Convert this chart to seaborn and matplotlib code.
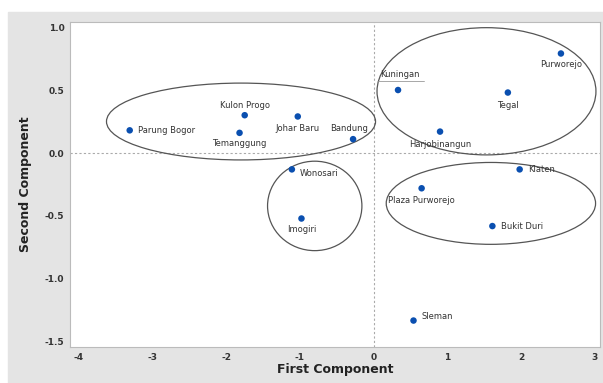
import pandas as pd
import seaborn as sns
import matplotlib.pyplot as plt
from matplotlib.patches import Ellipse, Rectangle

# scores
places = ["Parung Bogor", "Kulon Progo", "Temanggung", "Johar Baru", "Bandung",
          "Kuningan", "Tegal", "Purworejo", "Harjobinangun", "Klaten",
          "Wonosari", "Imogiri", "Plaza Purworejo", "Bukit Duri", "Sleman"]
first_comp = [-3.31, -1.75, -1.82, -1.03, -0.28,
              0.33, 1.82, 2.54, 0.90, 1.98,
              -1.11, -0.98, 0.65, 1.61, 0.54]
second_comp = [0.18, 0.30, 0.16, 0.29, 0.11,
               0.50, 0.48, 0.79, 0.17, -0.13,
               -0.13, -0.52, -0.28, -0.58, -1.33]

# label offsets in points
label_dx = [6, 0, 0, 0, -3, 1, 0, 0, 0, 6, 6, 0, 0, 6, 6]
label_dy = [0, 7, -8, -9, 8, 11, -9, -8, -9, 0, -3, -8, -9, 0, 3]
label_ha = ["left", "center", "center", "center", "center", "center", "center", "center",
            "center", "left", "left", "center", "center", "left", "left"]

# cluster ellipses: centre x, centre y, width, height
groups_cx = [-1.80, 1.53, 1.59, -0.80]
groups_cy = [0.25, 0.49, -0.40, -0.42]
groups_w = [3.65, 2.97, 2.84, 1.28]
groups_h = [0.61, 1.01, 0.65, 0.71]

df = pd.DataFrame({"place": places, "First Component": first_comp,
                   "Second Component": second_comp})

sns.set_style("white")
plt.rcParams["axes.unicode_minus"] = False
fig = plt.figure(figsize=(6.03, 3.83), dpi=100, facecolor="white")
bg = Rectangle((8 / 603, 0), 1, (383 - 12) / 383,
               transform=fig.transFigure, color="#e4e4e4", zorder=-10)
fig.patches.append(bg)
ax = fig.add_axes([70 / 603, 36 / 383, 530 / 603, 325 / 383])
ax.set_zorder(1)
ax.set_facecolor("white")

ax.axhline(0, color="#aaaaaa", ls=(0, (2, 2)), lw=0.8, zorder=1)
ax.axvline(0, color="#aaaaaa", ls=(0, (2, 2)), lw=0.8, zorder=1)

sns.scatterplot(data=df, x="First Component", y="Second Component", ax=ax,
                color="#0a4fb0", s=22, edgecolor="none", zorder=3)

for i, name in enumerate(places):
    ax.annotate(name, (first_comp[i], second_comp[i]),
                xytext=(label_dx[i], label_dy[i]), textcoords="offset points",
                ha=label_ha[i], va="center", fontsize=6, color="#333333")

for cx, cy, w, h in zip(groups_cx, groups_cy, groups_w, groups_h):
    ax.add_patch(Ellipse((cx, cy), w, h, fill=False, edgecolor="#555555", lw=0.9, zorder=2))

# small stray line under Kuningan
ax.plot([0.06, 0.68], [0.575, 0.575], color="#999999", lw=0.6)

ax.set_xlim(-4.12, 3.07)
ax.set_ylim(-1.54, 1.04)
ax.set_xticks([-4, -3, -2, -1, 0, 1, 2, 3])
ax.set_yticks([-1.5, -1.0, -0.5, 0.0, 0.5, 1.0])
ax.set_yticklabels(["-1.5", "-1.0", "-0.5", "0.0", "0.5", "1.0"])
ax.tick_params(labelsize=6.5, length=2, color="#888888", pad=2)
for lab in ax.get_xticklabels() + ax.get_yticklabels():
    lab.set_fontweight("bold")
    lab.set_color("#333333")
ax.set_xlabel("First Component", fontsize=9, fontweight="bold", color="#222222", labelpad=1)
ax.set_ylabel("Second Component", fontsize=9, fontweight="bold", color="#222222", labelpad=9)
for sp in ax.spines.values():
    sp.set_color("#bbbbbb")
    sp.set_linewidth(0.8)

fig.savefig("out.png", dpi=100, facecolor=fig.get_facecolor())
